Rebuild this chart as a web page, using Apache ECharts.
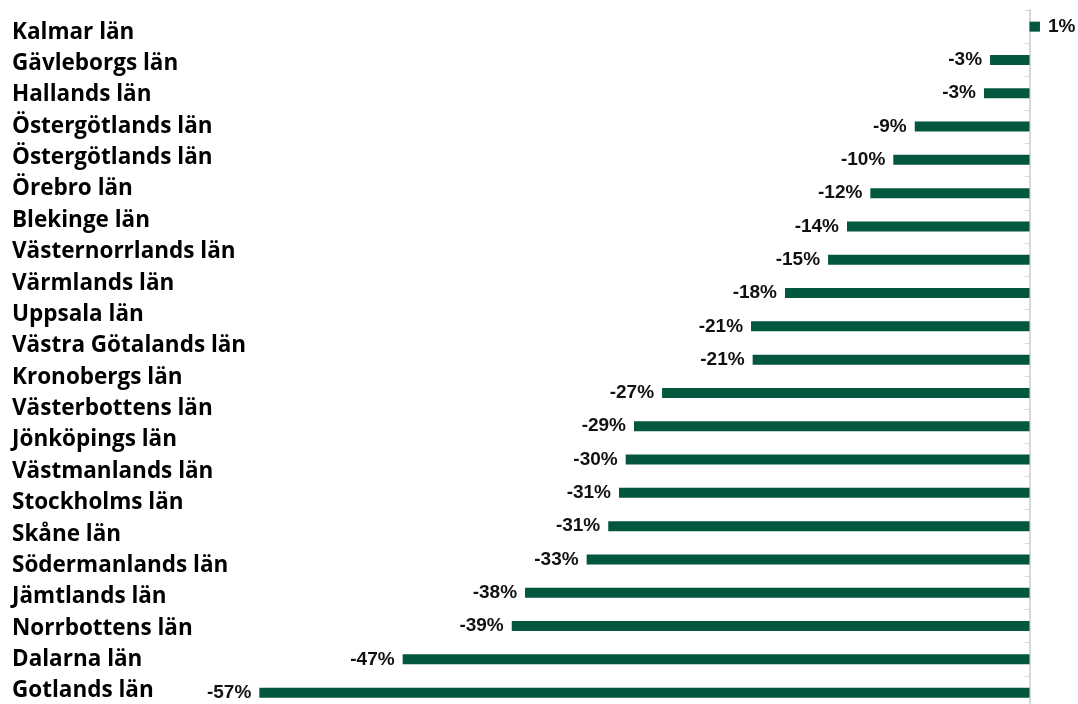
<!DOCTYPE html>
<html>
<head>
<meta charset="utf-8">
<style>
  html, body { margin: 0; padding: 0; background: #ffffff; }
  #chart { width: 1078px; height: 704px; }
</style>
<script src="https://cdn.jsdelivr.net/npm/echarts@6/dist/echarts.min.js"></script>
</head>
<body>
<div id="chart"></div>
<script>
// Category labels (left column, 22 entries as in the reference)
const regionLabels = [
  'Kalmar län', 'Gävleborgs län', 'Hallands län', 'Östergötlands län', 'Östergötlands län',
  'Örebro län', 'Blekinge län', 'Västernorrlands län', 'Värmlands län', 'Uppsala län',
  'Västra Götalands län', 'Kronobergs län', 'Västerbottens län', 'Jönköpings län',
  'Västmanlands län', 'Stockholms län', 'Skåne län', 'Södermanlands län', 'Jämtlands län',
  'Norrbottens län', 'Dalarna län', 'Gotlands län'
];
// Bar values in percent (21 bars, top to bottom)
const changeValues = [
  0.78, -2.94, -3.39, -8.55, -10.15, -11.86, -13.6, -15.01, -18.22, -20.75, -20.63,
  -27.38, -29.47, -30.09, -30.59, -31.39, -33.0, -37.59, -38.58, -46.71, -57.39
];
const barCategories = changeValues.map((v, i) => 'bar' + i);

const chart = echarts.init(document.getElementById('chart'), null, { renderer: 'canvas' });
const green = '#03573F';

chart.setOption({
  backgroundColor: '#ffffff',
  animation: false,
  grid: [
    { left: 1029.5 - 60 * 13.42, width: 62 * 13.42, top: 10, height: 699.3,
      containLabel: false, outerBoundsMode: 'none' },
    { left: 20, width: 10, top: 16.5, height: 690.2,
      containLabel: false, outerBoundsMode: 'none' }
  ],
  xAxis: [
    { type: 'value', gridIndex: 0, min: -60, max: 2, show: false },
    { type: 'value', gridIndex: 1, min: 0, max: 1, show: false }
  ],
  yAxis: [
    {
      type: 'category', gridIndex: 0, data: barCategories, inverse: true,
      axisLine: { show: true, onZero: true, lineStyle: { color: '#d9d9d9', width: 2 } },
      axisTick: { show: true, length: 5, lineStyle: { color: '#d9d9d9', width: 1 } },
      axisLabel: { show: false },
      splitLine: { show: false }
    },
    {
      type: 'category', gridIndex: 1, data: regionLabels, inverse: true, dedplication: false,
      axisLine: { show: false }, axisTick: { show: false }, splitLine: { show: false },
      axisLabel: {
        show: true, align: 'left', margin: 8, interval: 0,
        fontFamily: 'Open Sans', fontWeight: 'bold', fontSize: 22.5, color: '#000000'
      }
    }
  ],
  series: [{
    type: 'bar', xAxisIndex: 0, yAxisIndex: 0,
    barWidth: 10,
    itemStyle: { color: green },
    data: changeValues.map(v => ({
      value: v,
      label: { position: v < 0 ? 'left' : 'right' }
    })),
    label: {
      show: true, distance: 8,
      fontFamily: 'Liberation Sans', fontWeight: 'bold', fontSize: 19, color: '#111111',
      formatter: p => Math.round(p.value) + '%'
    }
  }]
});
</script>
</body>
</html>
